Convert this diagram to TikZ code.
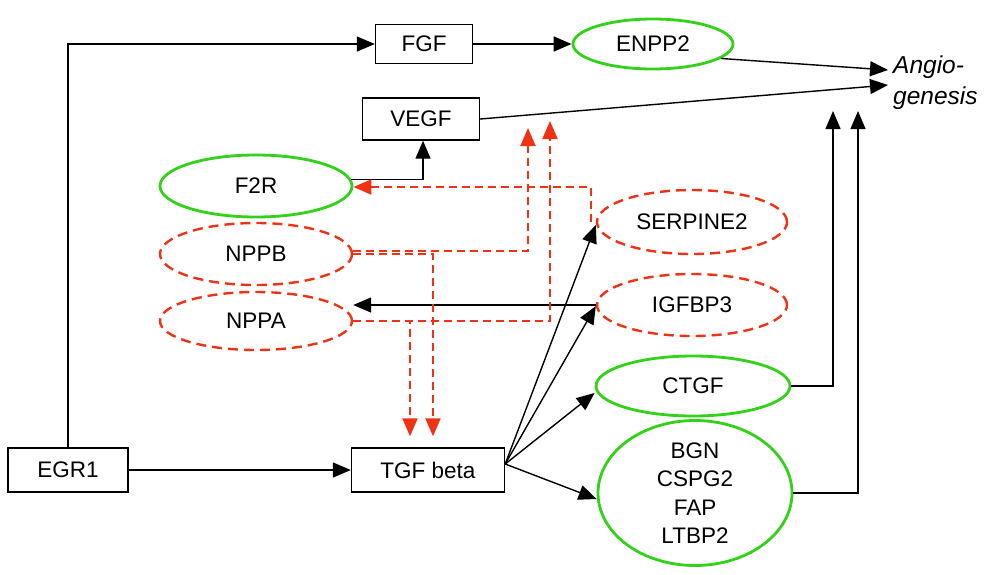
\documentclass[tikz,border=0pt]{standalone}
\usepackage{fontspec}
\setmainfont{Liberation Sans}
\usetikzlibrary{shapes.geometric,arrows.meta}
\definecolor{grn}{RGB}{50,210,25}
\definecolor{rdd}{RGB}{240,50,20}
\begin{document}
\begin{tikzpicture}[x=1pt,y=-1pt,
  every node/.style={font=\fontsize{22.5}{28.5}\selectfont},
  box/.style={draw,line width=1.4pt,inner sep=0pt},
  gell/.style={ellipse,draw=grn,line width=2.8pt,inner sep=0pt},
  rell/.style={ellipse,draw=rdd,line width=2.4pt,dash pattern=on 10pt off 6pt,inner sep=0pt},
  tip/.tip={Triangle[length=18pt,width=15pt]},
  blk/.style={line width=1.4pt,-tip},
  rdash/.style={draw=rdd,line width=2pt,dash pattern=on 8pt off 5pt,-{Triangle[length=18pt,width=15pt,fill=rdd]}}]
\useasboundingbox (0,0) rectangle (992,574);
\fill[white] (0,0) rectangle (992,574);
% nodes
\node[box,minimum width=97pt,minimum height=39pt] (FGF) at (424,44) {FGF};
\node[gell,minimum width=160pt,minimum height=50pt] (ENPP2) at (653,44) {ENPP2};
\node[font=\fontsize{24.5}{31}\selectfont\itshape,align=left,inner sep=0pt,anchor=west] (ang) at (893,83) {Angio-\\genesis};
\node[box,minimum width=117pt,minimum height=42pt] (VEGF) at (421,119) {VEGF};
\node[gell,minimum width=192pt,minimum height=62pt] (F2R) at (256,186) {F2R};
\node[rell,minimum width=192pt,minimum height=62pt] (NPPB) at (256,254) {NPPB};
\node[rell,minimum width=192pt,minimum height=58pt] (NPPA) at (256,321) {NPPA};
\node[rell,minimum width=190pt,minimum height=64pt] (SERP) at (692,222) {SERPINE2};
\node[rell,minimum width=190pt,minimum height=62pt] (IGF) at (692,305) {IGFBP3};
\node[gell,minimum width=194pt,minimum height=60pt] (CTGF) at (693,386) {CTGF};
\node[gell,minimum width=194pt,minimum height=145pt,align=center] (BGN) at (695,493) {BGN\\CSPG2\\FAP\\LTBP2};
\node[box,minimum width=120pt,minimum height=44pt] (EGR1) at (68,470) {EGR1};
\node[box,minimum width=153pt,minimum height=44pt] (TGF) at (428,470) {TGF beta};
% free ends
\coordinate (a1) at (888,70);
\coordinate (a2) at (888,85);
\coordinate (r1) at (528,128);
\coordinate (r2) at (550,121);
\coordinate (c1) at (833,111);
\coordinate (c2) at (858,111);
% black connectors
\draw[blk] (EGR1.north) |- (FGF.west);
\draw[blk] (FGF.east) -- (ENPP2.west);
\draw[blk] (ENPP2.-12) -- (a1);
\draw[blk] (VEGF.east) -- (a2);
\draw[blk] (F2R.4) -| ([xshift=2pt]VEGF.south);
\draw[blk] (EGR1.east) -- (TGF.west);
\draw[blk] ([yshift=6pt]TGF.east) -- ([yshift=-3pt]SERP.west);
\draw[blk] ([yshift=6pt]TGF.east) -- ([yshift=-1pt]IGF.west);
\draw[blk] ([yshift=6pt]TGF.east) -- ([yshift=-7pt]CTGF.west);
\draw[blk] ([yshift=6pt]TGF.east) -- ([yshift=-6pt]BGN.west);
\draw[blk] (IGF.west) -- (IGF.west -| NPPA.east);
\draw[blk] (CTGF.east) -| (c1);
\draw[blk] (BGN.east) -| (c2);
% red dashed connectors
\draw[rdash] ([xshift=-5pt]SERP.west) |- ([yshift=-1pt]F2R.east);
\draw[rdash] ([yshift=3pt]NPPB.east) -| (r1);
\draw[rdash] (NPPB.east) -| ([xshift=5pt,yshift=11pt]TGF.north);
\draw[rdash] (NPPA.east) -| (r2);
\draw[rdash] (NPPA.east) -| ([xshift=-18pt,yshift=11pt]TGF.north);
\end{tikzpicture}
\end{document}
